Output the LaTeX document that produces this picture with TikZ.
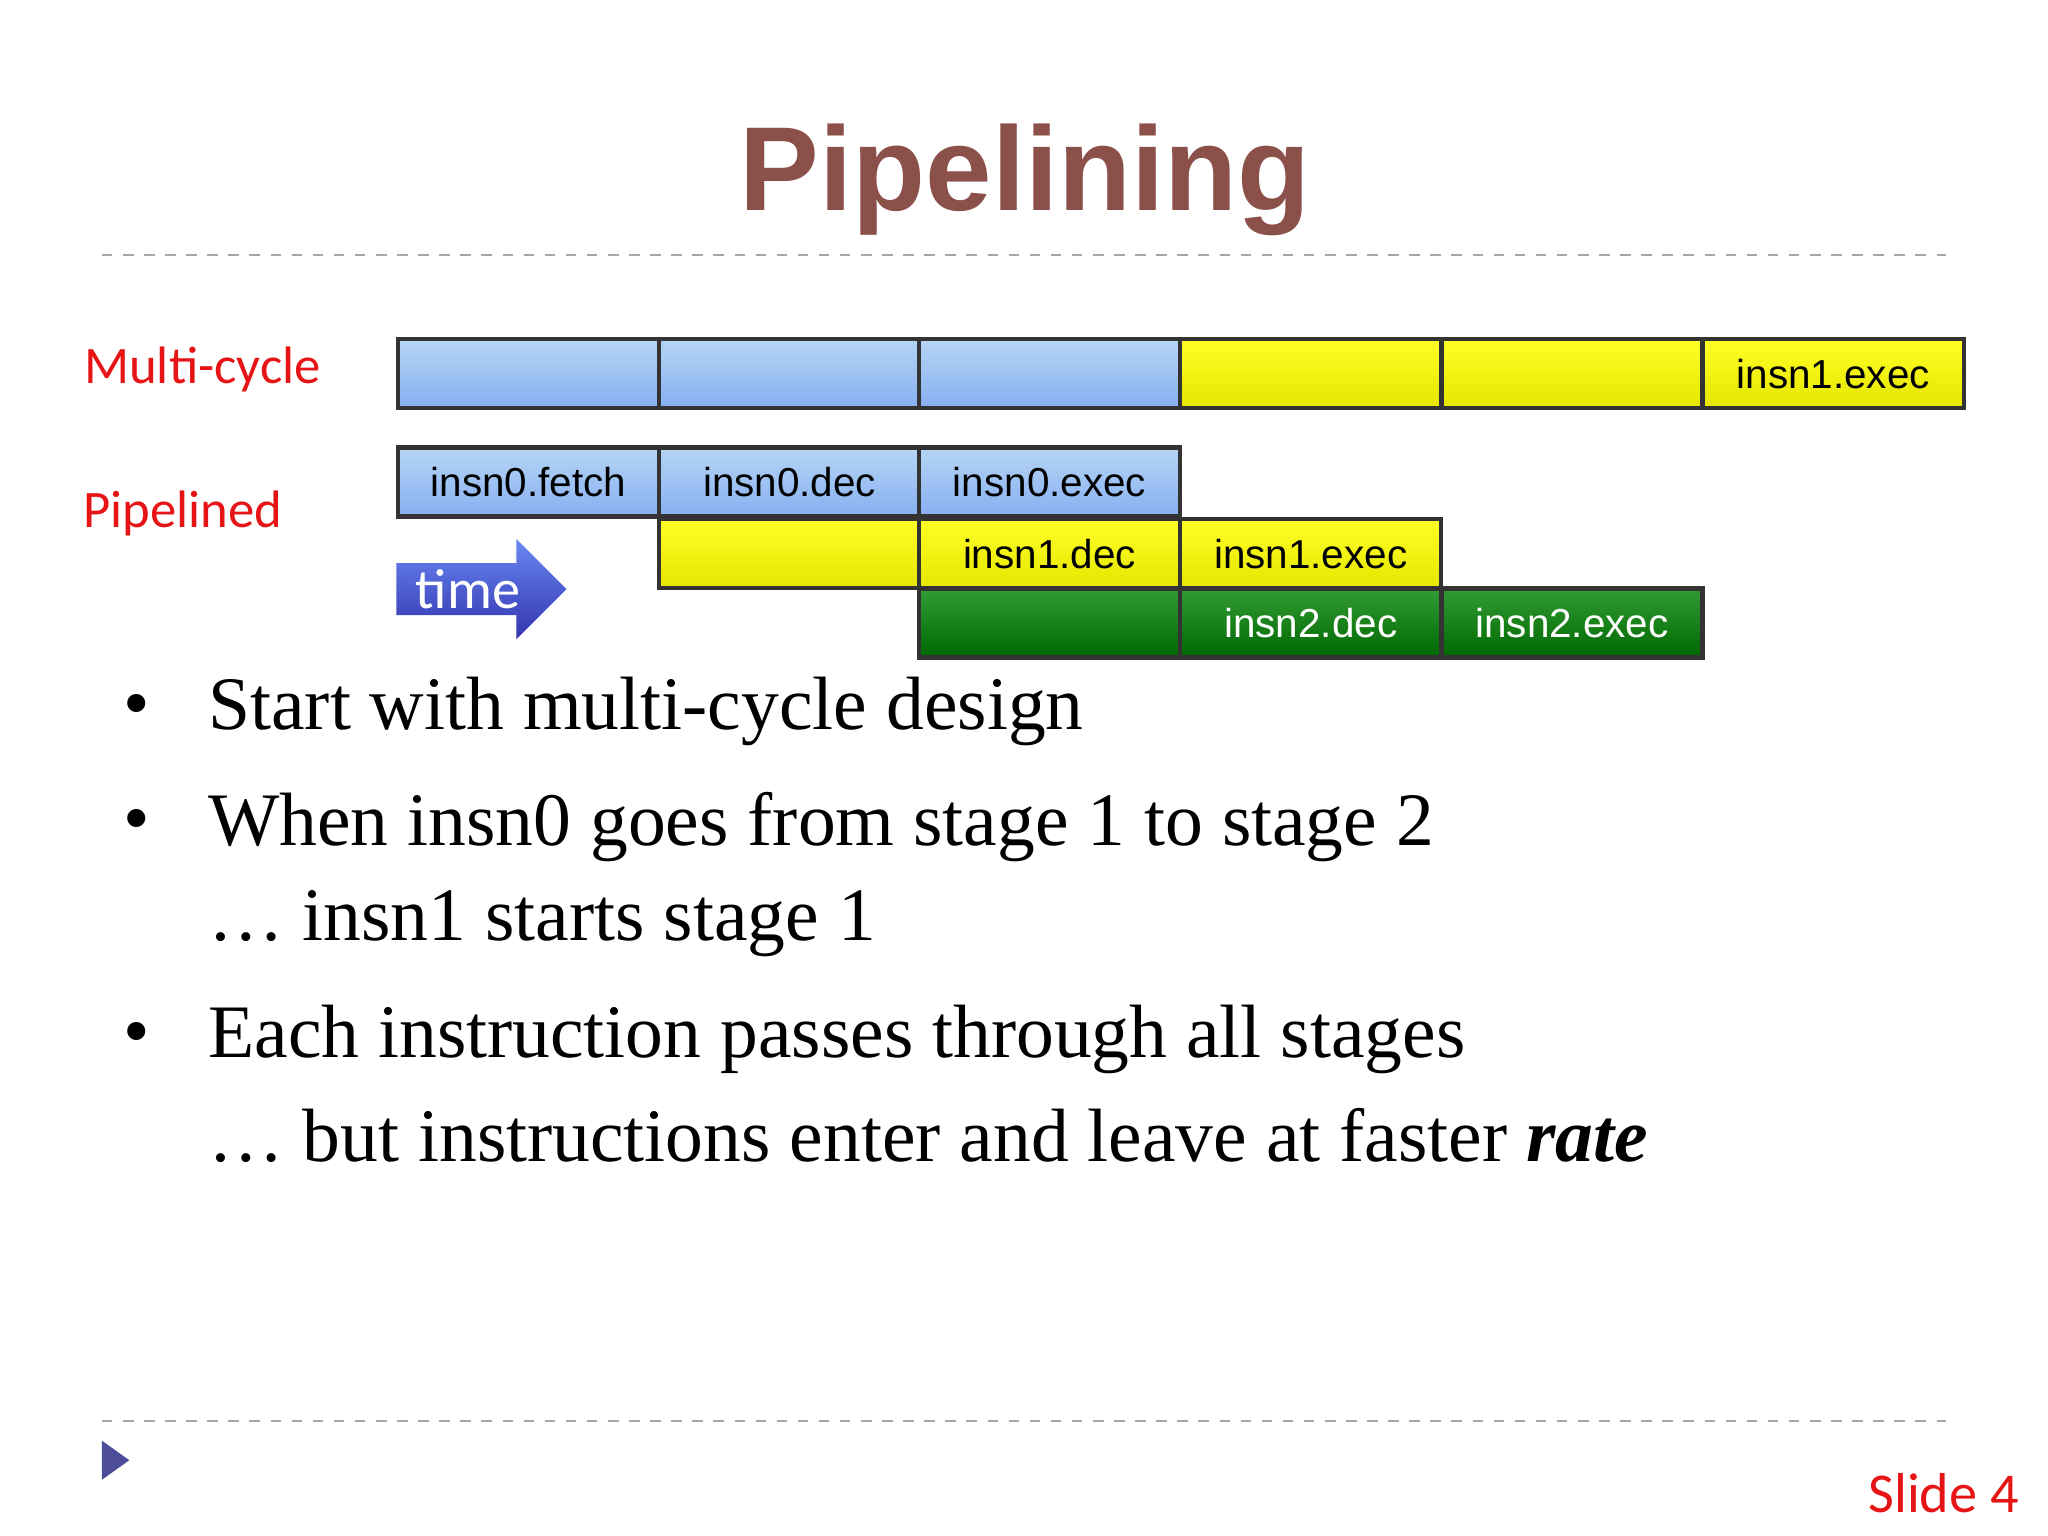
\documentclass[tikz,border=0pt]{standalone}
\usepackage{fontspec}
\setmainfont{Liberation Serif}
\newfontfamily\arial{Liberation Sans}
\newfontfamily\calib{Carlito}
\usetikzlibrary{shapes.arrows}
\definecolor{bblue}{RGB}{150,195,240}
\definecolor{byel}{RGB}{255,255,0}
\definecolor{bgreen}{RGB}{0,130,0}
\definecolor{lred}{RGB}{230,20,20}
\definecolor{ttl}{RGB}{140,80,75}
\tikzset{
 stage/.style={draw=black!80,line width=1.2pt,minimum width=2.61cm,minimum height=0.69cm,inner sep=0pt,anchor=north west,font=\arial\fontsize{11.5}{13}\selectfont},
 bluebox/.style={stage,top color=bblue!70!white,bottom color=bblue!90!blue},
 yelbox/.style={stage,top color=byel!85!white,bottom color=byel!90!black},
 grnbox/.style={stage,top color=bgreen!80!white,bottom color=bgreen!80!black,text=white},
 lbl/.style={text=lred,font=\calib\fontsize{15}{18}\selectfont},
 bul/.style={anchor=west,font=\fontsize{21.5}{26}\selectfont},
 sep/.style={dashed,draw=black!35,line width=0.6pt}
}
\begin{document}
\begin{tikzpicture}[x=0.01306cm,y=-0.01306cm]
\useasboundingbox[fill=white] (0,0) rectangle (1568,1176);
\node (title) at (785,138) {\arial\bfseries\fontsize{34}{40}\selectfont\textcolor{ttl}{Pipelining}};
\coordinate (d1a) at (78,195); \coordinate (d1b) at (1490,195);
\draw[sep] (d1a) -- (d1b);
\coordinate (d2a) at (78,1088); \coordinate (d2b) at (1490,1088);
\draw[sep] (d2a) -- (d2b);
\node[lbl] (mc) at (155,283) {Multi-cycle};
\node[lbl] (pl) at (140,393) {Pipelined};
% multi-cycle row
\node[bluebox] (m1) at (303,258) {};
\node[bluebox] (m2) at (503,258) {};
\node[bluebox] (m3) at (702,258) {};
\node[yelbox] (m4) at (902,258) {};
\node[yelbox] (m5) at (1102,258) {};
\node[yelbox] (m6) at (1302,258) {insn1.exec};
% pipelined
\node[bluebox] (p1) at (303,341) {insn0.fetch};
\node[bluebox] (p2) at (503,341) {insn0.dec};
\node[bluebox] (p3) at (702,341) {insn0.exec};
\node[yelbox] (q1) at (503,396) {};
\node[yelbox] (q2) at (702,396) {insn1.dec};
\node[yelbox] (q3) at (902,396) {insn1.exec};
\node[grnbox] (g1) at (702,449) {};
\node[grnbox] (g2) at (902,449) {insn2.dec};
\node[grnbox] (g3) at (1102,449) {insn2.exec};
% time arrow
\node[single arrow,anchor=west,minimum height=1.7cm,minimum width=1cm,single arrow head extend=0.22cm,inner sep=1pt,top color=blue!30!bblue,bottom color=blue!60!black!80,draw=none,text=white,font=\calib\fontsize{16}{18}\selectfont,align=left,text width=1.05cm] (time) at (303,451) {time};
% bullets
\node[bul] (b1) at (150,545) {Start with multi-cycle design};
\node[bul] (b2) at (150,633) {When insn0 goes from stage 1 to stage 2};
\node[bul] (b2b) at (150,707) {\dots\ insn1 starts stage 1};
\node[bul] (b3) at (150,796) {Each instruction passes through all stages};
\node[bul] (b3b) at (150,869) {\dots\ but instructions enter and leave at faster \textbf{\textit{rate}}};
\foreach \y/\n in {545/k1,633/k2,796/k3} \node[font=\fontsize{21.5}{26}\selectfont] (\n) at (105,\y) {\textbullet};
\fill[black!25!blue!40!gray] (78,1103) -- (99,1118) -- (78,1133) -- cycle;
\node[text=lred,font=\calib\fontsize{16}{18}\selectfont] (slide) at (1488,1143) {Slide 4};
\end{tikzpicture}
\end{document}
